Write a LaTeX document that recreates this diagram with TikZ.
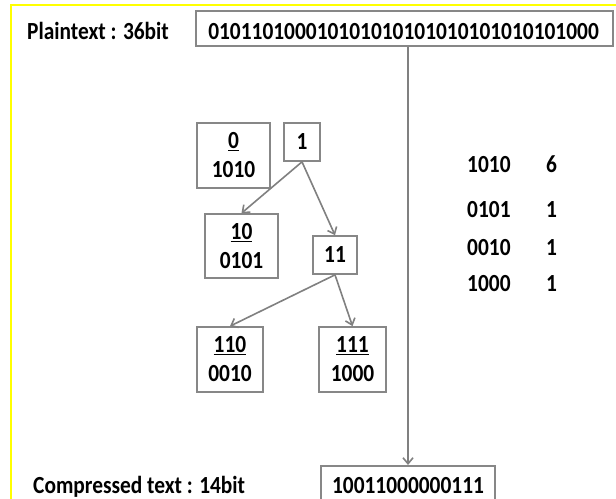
\documentclass[tikz,border=0pt]{standalone}
\usepackage{fontspec}
\setmainfont{Carlito}[FakeStretch=0.87]
\usetikzlibrary{arrows.meta}
\definecolor{boxgray}{RGB}{135,135,135}
\definecolor{arrgray}{RGB}{128,128,128}
\definecolor{frameyellow}{RGB}{255,255,0}
\begin{document}
\begin{tikzpicture}[x=1bp,y=-1bp,
  every node/.style={font=\fontsize{24.6bp}{29bp}\selectfont\bfseries, inner sep=0pt},
  box/.style={draw=boxgray, line width=1.7bp, align=center},
  arr/.style={draw=arrgray, line width=1.6bp, -{Straight Barb[length=6bp,width=10bp]}},
  lbl/.style={anchor=base west},
]
\path[use as bounding box] (0,0) rectangle (616,499);
\clip (0,0) rectangle (616,499);
\fill[white] (0,0) rectangle (616,499);
% yellow frame
\draw[frameyellow, line width=2bp] (617,5) -- (11,5) -- (11,500);

% plaintext
\node[lbl] (ptlabel) at (27,40) {Plaintext : 36bit};
\node[box, minimum width=417bp, minimum height=35bp] (pt) at (404.5,28.5) {};
\node[anchor=base] (pttext) at (403.5,40) {010110100010101010101010101010101000};

% compressed
\node[box, minimum width=174bp, minimum height=44bp, anchor=north] (cmp) at (408,465) {};
\node[anchor=base] (cmptext) at (408,493) {10011000000111};
\node[lbl] (cmplabel) at (33,493) {Compressed text : 14bit};
\draw[arr] (cmp.north |- pt.south) -- (cmp.north);

% tree
\node[box, minimum width=73bp, minimum height=65bp] (b0) at (233.5,155.5) {\underline{0}\\1010};
\node[box, minimum width=36bp, minimum height=38bp] (b1) at (302,142) {1};
\node[box, minimum width=73bp, minimum height=64bp] (b10) at (241.5,246) {\underline{10}\\0101};
\node[box, minimum width=44bp, minimum height=38bp] (b11) at (335,255) {11};
\node[box, minimum width=66bp, minimum height=65bp] (b110) at (230,359.5) {\underline{110}\\0010};
\node[box, minimum width=67bp, minimum height=65bp] (b111) at (352.5,359.5) {\underline{111}\\1000};

\draw[arr] (b1.south) -- (b10.north);
\draw[arr] (b1.south) -- (b11.north);
\draw[arr] (b11.south) -- (b110.north);
\draw[arr] (b11.south) -- (b111.north);

% table
\node[lbl] (t1a) at (467,173) {1010};
\node[lbl] (t1b) at (546,173) {6};
\node[lbl] (t2a) at (467,218) {0101};
\node[lbl] (t2b) at (546,218) {1};
\node[lbl] (t3a) at (467,255) {0010};
\node[lbl] (t3b) at (546,255) {1};
\node[lbl] (t4a) at (467,291) {1000};
\node[lbl] (t4b) at (546,291) {1};
\end{tikzpicture}
\end{document}
